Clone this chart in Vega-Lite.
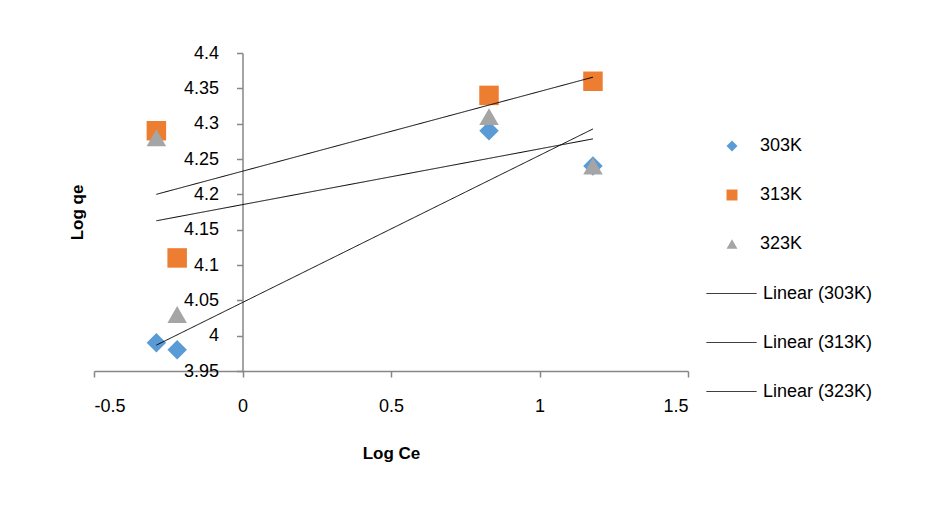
{
  "$schema": "https://vega.github.io/schema/vega-lite/v6.json",
  "width": 594,
  "height": 318,
  "autosize": {"type": "none"},
  "padding": {"left": 94, "top": 53, "right": 260, "bottom": 135},
  "background": "white",
  "config": {
    "view": {"stroke": null},
    "font": "Liberation Sans",
    "axis": {
      "grid": false,
      "domainColor": "#868686",
      "domainWidth": 1.5,
      "tickColor": "#868686",
      "tickWidth": 1.5,
      "tickSize": 6,
      "labelFontSize": 18,
      "labelColor": "#000000",
      "titleFontSize": 17,
      "titleFontWeight": "bold",
      "titleColor": "#000000"
    },
    "legend": {
      "labelFontSize": 18,
      "labelColor": "#000000",
      "padding": 0,
      "symbolStrokeWidth": 1
    }
  },
  "data": {
    "values": [
      {"series": "303K", "trend": "Linear (303K)", "logce": -0.29, "logqe": 3.99},
      {"series": "303K", "trend": "Linear (303K)", "logce": -0.22, "logqe": 3.98},
      {"series": "303K", "trend": "Linear (303K)", "logce": 0.83, "logqe": 4.29},
      {"series": "303K", "trend": "Linear (303K)", "logce": 1.18, "logqe": 4.24},
      {"series": "313K", "trend": "Linear (313K)", "logce": -0.29, "logqe": 4.29},
      {"series": "313K", "trend": "Linear (313K)", "logce": -0.22, "logqe": 4.11},
      {"series": "313K", "trend": "Linear (313K)", "logce": 0.83, "logqe": 4.34},
      {"series": "313K", "trend": "Linear (313K)", "logce": 1.18, "logqe": 4.36},
      {"series": "323K", "trend": "Linear (323K)", "logce": -0.29, "logqe": 4.28},
      {"series": "323K", "trend": "Linear (323K)", "logce": -0.22, "logqe": 4.03},
      {"series": "323K", "trend": "Linear (323K)", "logce": 0.83, "logqe": 4.31},
      {"series": "323K", "trend": "Linear (323K)", "logce": 1.18, "logqe": 4.24}
    ]
  },
  "encoding": {
    "x": {
      "field": "logce", "type": "quantitative",
      "scale": {"domain": [-0.5, 1.5], "nice": false, "zero": false},
      "axis": {
        "title": "Log Ce",
        "values": [-0.5, 0, 0.5, 1, 1.5],
        "format": "~g",
        "labelExpr": "replace(datum.label, '\u2212', '-')",
        "labelPadding": 20,
        "labelOverlap": false,
        "titleY": 82,
        "titleBaseline": "middle"
      }
    },
    "y": {
      "field": "logqe", "type": "quantitative",
      "scale": {"domain": [3.95, 4.4], "nice": false, "zero": false},
      "axis": {
        "title": "Log qe",
        "offset": -148.5,
        "values": [3.95, 4, 4.05, 4.1, 4.15, 4.2, 4.25, 4.3, 4.35, 4.4],
        "format": "~g",
        "labelOverlap": false,
        "labelBound": false,
        "labelPadding": 18,
        "titleX": -165,
        "titleBaseline": "middle"
      }
    }
  },
  "layer": [
    {
      "mark": {"type": "point", "filled": true, "opacity": 1, "size": 380},
      "encoding": {
        "color": {
          "field": "series", "type": "nominal",
          "scale": {
            "domain": ["303K", "313K", "323K"],
            "range": ["#5B9BD5", "#ED7D31", "#A5A5A5"]
          },
          "legend": {
            "title": null, "orient": "none", "legendX": 629, "legendY": 84,
            "symbolSize": 120, "rowPadding": 31, "labelOffset": 19
          }
        },
        "shape": {
          "field": "series", "type": "nominal",
          "scale": {
            "domain": ["303K", "313K", "323K"],
            "range": ["diamond", "square", "triangle-up"]
          },
          "legend": {
            "title": null, "orient": "none", "legendX": 629, "legendY": 84,
            "symbolSize": 120, "rowPadding": 31, "labelOffset": 19
          }
        }
      }
    },
    {
      "transform": [{"regression": "logqe", "on": "logce", "groupby": ["trend"]}],
      "mark": {"type": "line", "color": "#000000", "strokeWidth": 1},
      "encoding": {
        "strokeDash": {
          "field": "trend", "type": "nominal",
          "scale": {
            "domain": ["Linear (303K)", "Linear (313K)", "Linear (323K)"],
            "range": [[1, 0], [1, 0], [1, 0]]
          },
          "legend": {
            "title": null, "orient": "none", "legendX": 612, "legendY": 215,
            "symbolSize": 2500, "rowPadding": 14, "labelOffset": 6,
            "symbolStrokeColor": "#000000"
          }
        }
      }
    }
  ]
}
